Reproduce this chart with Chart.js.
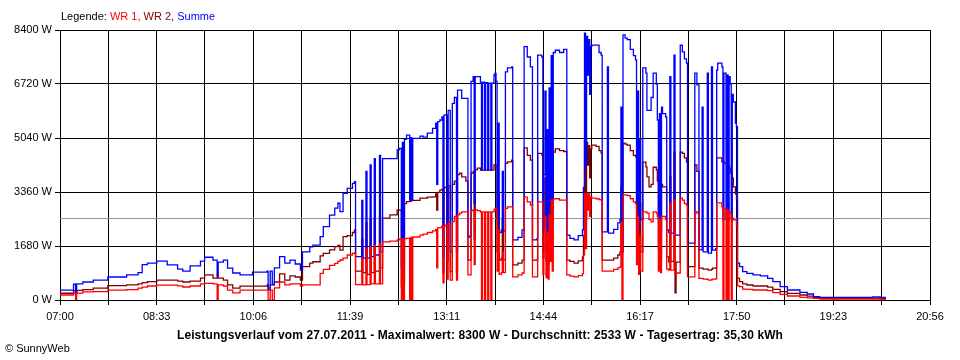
<!DOCTYPE html>
<html>
<head>
<meta charset="utf-8">
<script src="https://cdn.jsdelivr.net/npm/chart.js@4.4.0/dist/chart.umd.min.js"></script>
<style>
  body { margin: 0; background: #fff; }
  #wrap { position: relative; width: 960px; height: 360px; font-family: "Liberation Sans", Arial, sans-serif; font-size: 11px; color: #000; }
  #chart { position: absolute; left: 0; top: 0; }
  #legend { position: absolute; left: 61px; top: 10px; }
  #caption { position: absolute; left: 0; width: 960px; top: 328px; text-align: center; font-weight: bold; font-size: 12px; letter-spacing: 0.1px; }
  #copy { position: absolute; left: 5px; top: 342px; }
</style>
</head>
<body>
<div id="wrap">
  <canvas id="chart" width="960" height="360"></canvas>
  <div id="legend">Legende: <span style="color:#ff0000">WR 1,</span> <span style="color:#800000">WR 2,</span> <span style="color:#0000ff">Summe</span></div>
  <div id="caption"></div>
  <div id="copy">© SunnyWeb</div>
</div>
<script>
// --- data (27.07.2011) ---
const startTime = '07:00';
const endTime = '20:56';
const xTickLabels = ['07:00', '08:33', '10:06', '11:39', '13:11', '14:44', '16:17', '17:50', '19:23', '20:56'];
const yTickValues = [0, 1680, 3360, 5040, 6720, 8400];

const dayDate = '27.07.2011';
const maxValue = 8300;
const avgValue = 2533;
const dayYield = '35,30';

const times = [
  '07:00','07:13','07:15','07:16','07:22','07:32','07:46',
  '08:04','08:15','08:19','08:24','08:33','08:43','08:53','08:58',
  '09:05','09:15','09:19','09:27','09:31','09:32','09:37','09:41','09:46','09:53',
  '10:05','10:19','10:20','10:22','10:24','10:26','10:31','10:36','10:41','10:46','10:51','10:53',
  '11:00','11:03','11:10','11:13','11:19','11:24','11:27','11:29','11:32','11:36','11:41','11:43',
  '11:44','11:50','11:51','11:54','11:55','11:58','11:59',
  '12:02','12:03','12:07','12:08','12:10','12:17','12:24','12:26','12:28','12:29','12:30','12:31','12:33','12:36','12:37','12:38','12:39','12:46','12:49','12:53','12:58',
  '13:01','13:02','13:03','13:05','13:07','13:08','13:09','13:10','13:12','13:13','13:15','13:17','13:19','13:21','13:22','13:24','13:26','13:30',
  '13:32','13:34','13:35','13:37','13:38','13:39','13:41','13:44','13:45','13:46','13:48','13:49','13:51','13:52','13:54','13:55','13:57','13:58','13:59',
  '14:00','14:01','14:02','14:04','14:05','14:06','14:08','14:10','14:14','14:15','14:20','14:24','14:26','14:29','14:32','14:34','14:38','14:39','14:43',
  '14:44','14:45','14:46','14:47','14:48','14:49','14:50','14:51','14:52','14:53','14:54','14:56',
  '15:00','15:04','15:07','15:10','15:14','15:18','15:22','15:23','15:24','15:25','15:26','15:27','15:28','15:29','15:30','15:31','15:35','15:38','15:40',
  '15:41','15:46','15:47','15:52','15:56','15:58','15:59',
  '16:00','16:01','16:03','16:05','16:08','16:11','16:13','16:14','16:15','16:16','16:17','16:18','16:20','16:23','16:24','16:26','16:28',
  '16:30','16:33','16:34','16:35','16:36','16:37','16:38','16:39','16:42','16:43','16:45','16:46','16:47','16:49','16:50','16:51','16:52','16:55','16:56','16:58',
  '17:00','17:02','17:03','17:09','17:10','17:12','17:14','17:17','17:18','17:22','17:23','17:26','17:27','17:30',
  '17:31','17:32','17:36','17:37','17:38','17:40','17:41','17:42','17:43','17:44','17:45','17:46','17:47','17:49','17:50','17:51','17:53','17:56',
  '18:00','18:06','18:13','18:19','18:20','18:25','18:32','18:39','18:51','18:58',
  '19:04','19:10','19:39','20:01','20:08','20:13'
];

// WR 1 (rot)
const wr1 = [
  155,210,0,215,250,260,310,
  320,370,400,435,465,465,440,405,
  435,500,520,500,0,470,435,310,220,310,
  310,310,0,310,0,380,560,470,500,500,435,470,
  470,470,830,950,1080,1140,1200,1245,1300,1400,1450,1470,
  480,1300,470,1600,480,1650,500,
  1700,500,1750,500,1810,1830,1870,1900,0,1900,0,1910,1920,0,1950,0,1960,2020,2050,2100,2150,
  2200,1000,2250,2250,2300,530,2300,2330,650,2380,620,2440,2600,620,2650,2700,2740,2740,
  780,780,2780,2800,1100,2800,2780,2740,0,2740,0,2740,0,2740,0,2740,2800,2850,2800,
  900,2200,800,850,1500,850,2850,2900,2900,720,780,840,3200,3050,2950,720,720,3050,3050,
  800,1500,2600,700,2100,650,2650,1200,3100,900,3150,3150,
  3110,3110,780,740,720,760,820,1400,3300,1600,3300,2800,3300,2600,3200,3170,3150,3120,3110,
  900,900,900,950,1000,1030,2400,
  0,3270,3270,3250,3150,3050,3000,1100,2600,800,2000,900,2740,2740,2700,2500,2430,
  2740,2700,2600,900,2500,850,2600,2600,2500,960,930,3000,930,930,3110,840,840,840,3170,3110,
  3000,2950,720,720,2750,2700,670,670,650,640,620,630,650,660,
  3020,3020,2900,0,2850,0,2800,0,2750,2700,0,2550,2490,2490,2300,440,415,340,
  332,311,311,311,290,230,176,124,83,65,
  52,31,31,31,25,0
];

// WR 2 (dunkelrot)
const wr2 = [
  210,290,200,300,320,370,445,
  470,500,540,570,620,620,590,560,
  590,680,780,680,780,680,620,470,370,430,
  430,470,320,470,470,560,810,620,750,715,620,1040,
  1150,1190,1370,1450,1560,1660,1700,1550,1970,2000,2100,2180,
  900,1900,850,2400,800,2500,850,
  2550,900,2600,1000,2550,2650,2800,2800,400,2900,500,3000,3060,3100,3080,3100,3100,3170,3170,3200,3210,
  3300,2800,3350,3420,3450,850,3500,3500,1200,3550,880,3600,3700,850,3900,3950,3830,3700,
  1240,1240,3950,4000,1900,4050,4100,4040,4040,4040,4040,4040,4040,4040,4040,4040,4200,4200,4150,
  1500,3300,1240,1300,2500,1250,4250,4300,4350,1090,1150,1240,4730,4500,4350,1240,1250,4560,4510,
  1300,2400,3800,1200,3200,1100,4000,1800,4500,1400,4600,4700,
  4650,4620,1240,1200,1150,1220,1340,2000,4950,2500,4900,4200,4800,3800,4700,4820,4780,4650,4570,
  1240,1240,1240,1300,1400,1490,3500,
  1500,4880,4850,4820,4650,4500,4450,1800,3900,1400,3000,1500,4290,4140,3830,3520,3600,
  4130,4050,3700,1600,3500,1300,3600,3520,3520,1340,1180,3830,1200,1200,4600,220,1180,1180,4600,4560,
  4420,4290,1040,1040,4200,4000,990,990,960,960,930,950,990,1000,
  4420,4420,4300,4300,4250,4250,4200,4200,4100,3950,3950,3800,3520,3300,3110,675,570,500,
  467,435,435,435,400,330,259,207,155,120,
  73,52,52,52,40,0
];

// Summe (blau)
const summe = [
  310,490,230,500,560,620,715,
  780,850,1100,1150,1210,1090,960,900,
  1060,1210,1330,1240,780,1180,1240,990,840,780,
  870,900,320,900,480,1000,1350,1150,1240,1120,930,1500,
  1650,1710,1970,2280,2640,2860,3010,2750,3320,3470,3630,3680,
  1350,3100,1300,4000,1300,4200,1350,
  4400,1400,4500,1500,4400,4400,4670,4720,1000,4900,1100,5000,5130,3100,5050,3100,5030,5100,5070,5190,5340,
  5500,3600,5550,5600,5700,1340,5750,5760,1800,5900,1500,6120,6300,1500,6530,6530,6270,6270,
  1960,2000,6800,6950,3000,6950,6950,6780,4040,6780,4040,6760,4040,6750,4040,6750,7000,7050,6800,
  2500,5500,2100,2180,4000,2150,7100,7220,7250,1870,1950,2180,7880,7560,7250,1870,1900,7620,7560,
  2180,3900,6500,2000,5300,1900,6600,3000,7600,2400,7700,7770,
  7700,7800,2020,1920,1870,2000,2180,3500,8300,4200,8200,7000,8100,6400,7900,7930,7930,7700,7620,
  2120,7250,2080,2200,2400,2500,6000,
  1500,8250,8150,8100,7800,7600,7470,3000,6500,2200,5000,2500,7220,7060,5900,5900,6300,
  7060,6720,5600,2500,5800,2180,6000,5800,5700,2180,2100,6950,2080,2080,7620,2020,2020,2020,7930,7720,
  7500,7370,1770,1770,7060,6690,1560,6000,1500,7060,1460,7250,1550,1600,
  7150,7370,7250,2500,7060,2500,7000,2500,6950,6720,2500,6400,6160,5500,5390,1150,1040,880,
  830,780,750,750,675,570,415,311,240,187,
  104,83,83,93,83,0
];

// --- chart ---
function toMin(t) {
  const p = t.split(':');
  return parseInt(p[0], 10) * 60 + parseInt(p[1], 10);
}

if (wr1.length !== times.length || wr2.length !== times.length || summe.length !== times.length) {
  console.error('Datenlaenge passt nicht', times.length, wr1.length, wr2.length, summe.length);
}

const xMin = toMin(startTime);
const xMax = toMin(endTime);
const xSteps = (xTickLabels.length - 1) * 2; // Gitter auch zwischen den Beschriftungen

function points(values) {
  return times.map((t, i) => ({ x: toMin(t), y: values[i] }));
}

document.getElementById('caption').textContent =
  'Leistungsverlauf vom ' + dayDate + ' - Maximalwert: ' + maxValue + ' W - Durchschnitt: ' +
  avgValue + ' W - Tagesertrag: ' + dayYield + ' kWh';

const tickFont = { family: 'Liberation Sans', size: 11 };

function series(data, color) {
  return {
    data: data,
    borderColor: color,
    borderWidth: 1.3,
    pointRadius: 0,
    stepped: true,
    fill: false
  };
}

new Chart(document.getElementById('chart'), {
  type: 'line',
  data: {
    datasets: [
      series(points(wr1), '#ff0000'),
      series(points(summe), '#0000ff'),
      series(points(wr2), '#800000'),
      {
        data: [{ x: xMin, y: avgValue }, { x: xMax, y: avgValue }],
        borderColor: '#909090',
        borderWidth: 1,
        pointRadius: 0
      }
    ]
  },
  options: {
    responsive: false,
    animation: false,
    events: [],
    layout: { padding: { top: 30, right: 30, left: 0, bottom: 0 } },
    plugins: { legend: { display: false }, tooltip: { enabled: false }, title: { display: false } },
    scales: {
      x: {
        type: 'linear',
        min: xMin,
        max: xMax,
        afterFit: (s) => { s.height = 60; },
        afterBuildTicks: (s) => {
          const step = (xMax - xMin) / xSteps;
          const t = [];
          for (let i = 0; i <= xSteps; i++) t.push({ value: xMin + i * step });
          s.ticks = t;
        },
        ticks: {
          autoSkip: false,
          maxRotation: 0,
          padding: 5,
          color: '#000',
          font: tickFont,
          callback: (v, i) => (i % 2 === 0 ? xTickLabels[i / 2] : '')
        },
        grid: { color: '#000', lineWidth: 1, tickLength: 5 },
        border: { color: '#000', width: 1 }
      },
      y: {
        min: yTickValues[0],
        max: yTickValues[yTickValues.length - 1],
        afterFit: (s) => { s.width = 60; },
        afterBuildTicks: (s) => { s.ticks = yTickValues.map(v => ({ value: v })); },
        ticks: {
          padding: 3,
          color: '#000',
          font: tickFont,
          callback: (v) => v + ' W'
        },
        grid: { color: '#000', lineWidth: 1, tickLength: 5 },
        border: { color: '#000', width: 1 }
      }
    }
  }
});
</script>
</body>
</html>
